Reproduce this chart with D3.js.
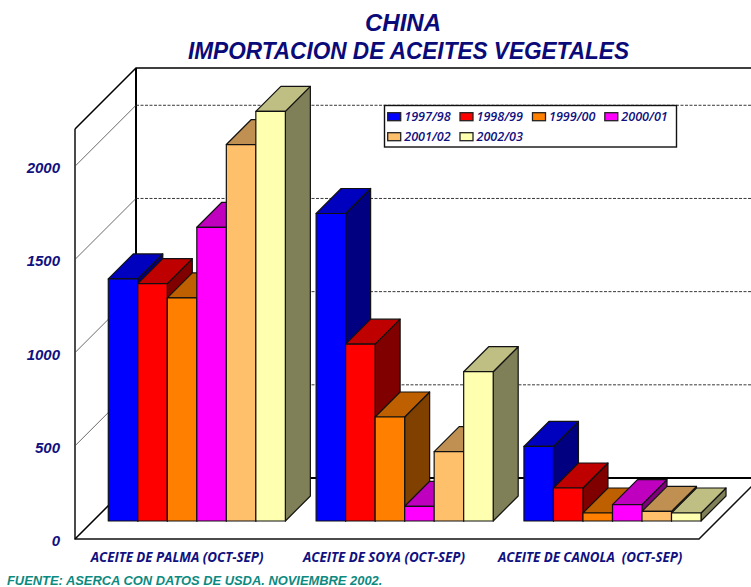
<!DOCTYPE html>
<html>
<head>
<meta charset="utf-8">
<script src="https://cdn.jsdelivr.net/npm/d3@7"></script>
<style>
  html, body { margin: 0; background: #fff; }
  svg { display: block; }
  text { font-style: italic; font-weight: bold; }
</style>
</head>
<body>
<svg id="chart" width="751" height="587"></svg>
<script>
const categories = ['ACEITE DE PALMA (OCT-SEP)', 'ACEITE DE SOYA (OCT-SEP)', 'ACEITE DE CANOLA  (OCT-SEP)'];
const seriesNames = ['1997/98', '1998/99', '1999/00', '2000/01', '2001/02', '2002/03'];
const values = [
  [1299, 1650, 400],
  [1274, 949, 177],
  [1197, 558, 43],
  [1576, 79, 88],
  [2020, 372, 52],
  [2198, 801, 43]
];
const yTicks = [0, 500, 1000, 1500, 2000];
const seriesColors = ['#0000ff', '#ff0000', '#ff8000', '#ff00ff', '#ffc06c', '#ffffb0'];
const NAVY = '#10107f';

const svg = d3.select('#chart');

// plot box, front floor corner to back wall
const left = 75, floorY = 539, wallDepth = 61, plotRight = 699;
const yMax = 2200;
const yWall = d3.scaleLinear().domain([0, yMax]).range([floorY, 129]);
const yBar = d3.scaleLinear().domain([0, yMax]).range([521, 111]);
const barDepth = 25;

const x0 = d3.scaleBand().domain(categories).range([92.9, 716.4]).paddingInner(0.148).paddingOuter(0.074);
const x1 = d3.scaleBand().domain(seriesNames).range([0, x0.bandwidth()]);

const line = d3.line();

// walls and floor
const walls = svg.append('g').attr('fill', 'none').attr('stroke', '#000');
walls.append('path')
  .attr('d', line([[left, yWall(yMax)], [left + wallDepth, yWall(yMax) - wallDepth], [751, yWall(yMax) - wallDepth]]))
  .attr('stroke-width', 1.5);
walls.append('path')
  .attr('d', line([[left + wallDepth, yWall(yMax) - wallDepth], [left + wallDepth, floorY - wallDepth]]))
  .attr('stroke-width', 2);
walls.append('path')
  .attr('d', line([[left, yWall(yMax)], [left, floorY], [plotRight, floorY], [plotRight + wallDepth, floorY - wallDepth]]))
  .attr('stroke', '#111').attr('stroke-width', 1.5);
walls.append('path')
  .attr('d', line([[left, floorY], [left + wallDepth, floorY - wallDepth]]))
  .attr('stroke-width', 1.5);
walls.append('path')
  .attr('d', line([[left + wallDepth, floorY - wallDepth], [751, floorY - wallDepth]]))
  .attr('stroke-width', 2.2);

// gridlines
const gridTicks = yTicks.filter(d => d > 0);
svg.append('g').selectAll('path').data(gridTicks).join('path')
  .attr('d', d => line([[left, yWall(d)], [left + wallDepth, yWall(d) - wallDepth]]))
  .attr('fill', 'none').attr('stroke', '#444').attr('stroke-width', 0.8);
svg.append('g').selectAll('path').data(gridTicks).join('path')
  .attr('d', d => line([[left + wallDepth, yWall(d) - wallDepth], [751, yWall(d) - wallDepth]]))
  .attr('fill', 'none').attr('stroke', '#222').attr('stroke-width', 0.9).attr('stroke-dasharray', '3,1.5');

// bars, left to right so each one covers the side of the previous
const shade = (c, k) => {
  const r = d3.rgb(c);
  return d3.rgb(r.r * k, r.g * k, r.b * k).formatHex();
};
const barData = [];
categories.forEach((cat, i) => {
  seriesNames.forEach((s, j) => {
    barData.push({ cat, s, value: values[j][i], color: seriesColors[j] });
  });
});

const bars = svg.append('g').selectAll('g').data(barData).join('g')
  .attr('stroke', '#111').attr('stroke-width', 1.2).attr('stroke-linejoin', 'round');
const bx = d => x0(d.cat) + x1(d.s);
bars.append('path')
  .attr('d', d => {
    const x = bx(d) + x1.bandwidth(), t = yBar(d.value), b = yBar(0);
    return line([[x, t], [x + barDepth, t - barDepth], [x + barDepth, b - barDepth], [x, b]]) + 'Z';
  })
  .attr('fill', d => shade(d.color, 0.5));
bars.append('path')
  .attr('d', d => {
    const x = bx(d), w = x1.bandwidth(), t = yBar(d.value);
    return line([[x, t], [x + barDepth, t - barDepth], [x + w + barDepth, t - barDepth], [x + w, t]]) + 'Z';
  })
  .attr('fill', d => shade(d.color, 0.75));
bars.append('rect')
  .attr('x', bx)
  .attr('y', d => yBar(d.value))
  .attr('width', x1.bandwidth())
  .attr('height', d => yBar(0) - yBar(d.value))
  .attr('fill', d => d.color);

// y labels
svg.append('g').selectAll('text').data(yTicks).join('text')
  .attr('x', 60)
  .attr('y', d => yWall(d) + 7)
  .attr('text-anchor', 'end')
  .attr('font-family', 'Liberation Sans')
  .attr('font-size', 15)
  .attr('fill', NAVY)
  .text(d => d);

// category labels
const catX = [90.7, 303, 498];
svg.append('g').selectAll('text').data(categories).join('text')
  .attr('x', (d, i) => catX[i])
  .attr('y', 562)
  .attr('font-family', 'Open Sans')
  .attr('font-size', 13.3)
  .attr('fill', NAVY)
  .style('white-space', 'pre')
  .text(d => d);

// legend
const legend = svg.append('g');
legend.append('rect')
  .attr('x', 384.5).attr('y', 105.5).attr('width', 292).attr('height', 41.5)
  .attr('fill', '#fff').attr('stroke', '#111').attr('stroke-width', 1.4);
const legendCols = [387.7, 460, 532.5, 604.8];
const legendItem = legend.selectAll('g').data(seriesNames).join('g')
  .attr('transform', (d, i) => `translate(${legendCols[i % 4]},${i < 4 ? 112.7 : 132.7})`);
legendItem.append('rect')
  .attr('width', 13).attr('height', 8)
  .attr('fill', (d, i) => seriesColors[i])
  .attr('stroke', '#222').attr('stroke-width', 1.3);
legendItem.append('text')
  .attr('x', 16.5).attr('y', 8.5)
  .attr('font-family', 'Open Sans')
  .attr('font-size', 12.6)
  .style('font-weight', 600)
  .attr('fill', NAVY)
  .text(d => d);

// title
svg.append('text').attr('x', 403).attr('y', 31).attr('text-anchor', 'middle')
  .attr('font-family', 'Liberation Sans').attr('font-size', 24).attr('fill', '#0a0a78')
  .text('CHINA');
svg.append('text').attr('x', 188).attr('y', 59)
  .attr('font-family', 'Liberation Sans').attr('font-size', 24).attr('fill', '#0a0a78')
  .attr('textLength', 441).attr('lengthAdjust', 'spacingAndGlyphs')
  .text('IMPORTACION DE ACEITES VEGETALES');

// source note
svg.append('text').attr('x', 7).attr('y', 585)
  .attr('font-family', 'Liberation Sans').attr('font-size', 12.9).attr('fill', '#0c8a80')
  .text('FUENTE: ASERCA CON DATOS DE USDA. NOVIEMBRE 2002.');
</script>
</body>
</html>
